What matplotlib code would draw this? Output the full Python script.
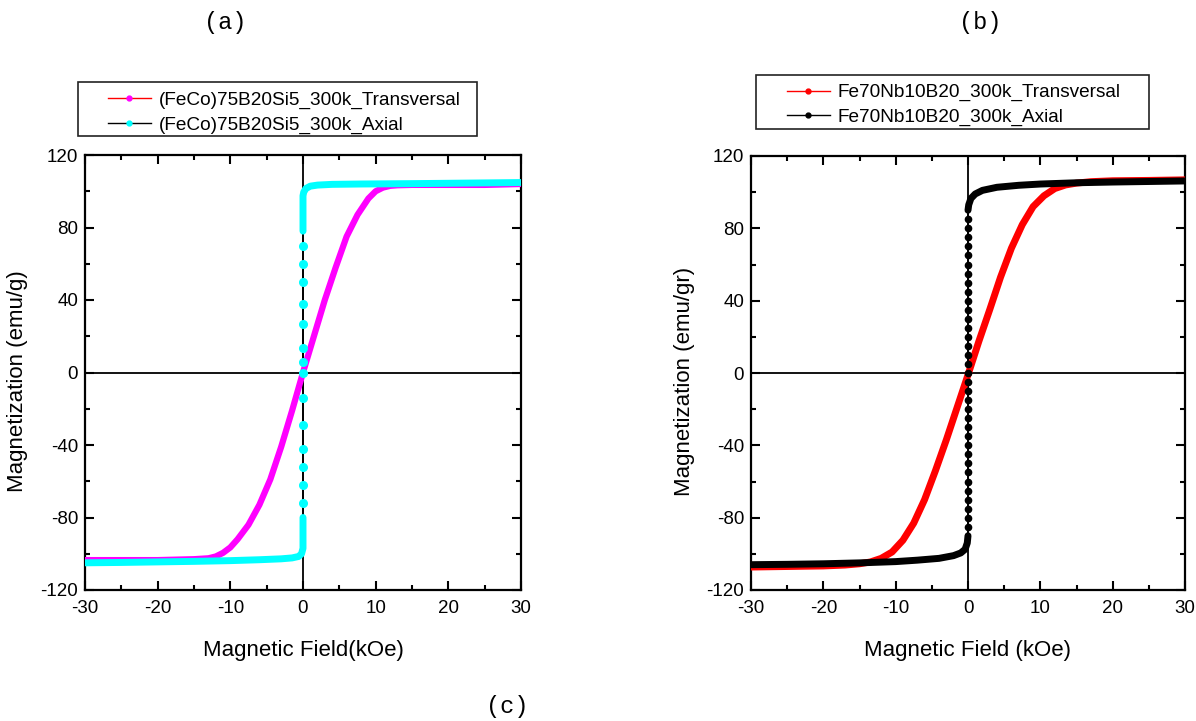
import numpy as np
import matplotlib.pyplot as plt
from matplotlib.lines import Line2D
from matplotlib.patches import Rectangle

plt.rcParams['font.family'] = ['Liberation Sans', 'DejaVu Sans']
plt.rcParams['axes.unicode_minus'] = False

# (a) (FeCo)75B20Si5 - transversal loop
a_trans_h = [-30, -25, -20, -15, -13, -12, -11, -10, -9, -7.5, -6, -4.5, -3, -1.5, 0,
             1.5, 3, 4.5, 6, 7.5, 9, 10, 11, 12, 13, 15, 20, 25, 30]
a_trans_m = [-103.5, -103.5, -103.5, -103, -102.5, -101.5, -99.5, -96.5, -92, -84, -73, -59, -41, -21, 0,
             20, 40, 58, 75, 87, 96, 100, 102, 103, 103.3, 103.5, 103.5, 103.5, 104]

# (a) axial loop: lower branch, jump at H = 0, upper branch
a_axial_h = [-30, -25, -20, -15, -10, -6, -3, -1.5, -0.6, -0.2, 0,
             0, 0, 0, 0, 0, 0, 0, 0, 0, 0, 0, 0, 0, 0, 0, 0, 0, 0, 0, 0, 0, 0, 0,
             0.1, 0.4, 1, 2, 4, 8, 15, 20, 25, 30]
a_axial_m = [-105, -104.8, -104.5, -104.2, -103.8, -103.3, -102.8, -102.3, -101.5, -100, -97,
             -92, -86, -80, -72, -62, -52, -42, -29, -14, 0, 6, 13.5, 27, 38, 50, 60, 70, 78, 84, 88, 92, 95, 97.5,
             99.5, 101.5, 102.8, 103.4, 103.8, 104, 104.2, 104.4, 104.6, 104.8]

# (b) Fe70Nb10B20 - transversal loop
b_trans_h = [-30, -25, -20, -17, -15, -13.5, -12, -10.5, -9, -7.5, -6, -4.5, -3, -1.5, 0,
             1.5, 3, 4.5, 6, 7.5, 9, 10.5, 12, 13.5, 15, 17, 20, 25, 30]
b_trans_m = [-107.3, -107, -106.7, -106.2, -105.5, -104.5, -102.5, -99, -92.5, -83, -70, -54, -37, -19, -1,
             17.5, 35, 53, 69, 82, 92, 98, 102, 104, 105, 105.8, 106.3, 106.5, 106.8]

# (b) axial loop
b_axial_h = [-30, -25, -20, -15, -10, -7, -4, -2, -1, -0.4, -0.1,
             0, 0, 0, 0, 0, 0, 0, 0, 0, 0, 0, 0, 0, 0, 0, 0, 0, 0, 0,
             0, 0, 0, 0, 0, 0, 0, 0, 0, 0, 0, 0, 0, 0, 0, 0, 0, 0,
             0.1, 0.4, 1, 2, 4, 7, 10, 15, 20, 25, 30]
b_axial_m = [-106, -105.8, -105.5, -105, -104.3, -103.5, -102.5, -101, -99.5, -97.5, -94,
             -90, -85, -80, -75, -70, -65, -60, -55, -50, -45, -40, -35, -30, -25, -20, -15, -10, -5, 0,
             5, 10, 15, 20, 25, 30, 35, 40, 45, 50, 55, 60, 65, 70, 75, 80, 85, 90,
             93, 96.5, 99, 101, 102.7, 103.8, 104.5, 105.2, 105.6, 105.9, 106.2]

a_labels = ['(FeCo)75B20Si5_300k_Transversal', '(FeCo)75B20Si5_300k_Axial']
b_labels = ['Fe70Nb10B20_300k_Transversal', 'Fe70Nb10B20_300k_Axial']


def draw_loop(ax, h, m, line_color, marker_color, band_lw, dot_ms, jump_limit):
    """Thin line under a dense band of markers; the jump at H=0 shows single dots"""
    h = np.asarray(h, dtype=float)
    m = np.asarray(m, dtype=float)
    jump = (h == 0) & (np.abs(m) < jump_limit)
    ax.plot(h, m, color=line_color, lw=1.2, zorder=2)
    band = np.where(jump, np.nan, m)
    ax.plot(h, band, color=marker_color, lw=band_lw, solid_capstyle='round',
            solid_joinstyle='round', zorder=3)
    ax.plot(h[jump], m[jump], ls='none', marker='o', ms=dot_ms,
            color=marker_color, zorder=3)


def setup_axes(ax, ylabel, xlabel):
    """Origin style frame: inward ticks on all sides, zero lines"""
    ax.set_xlim(-30, 30)
    ax.set_ylim(-120, 120)
    ax.set_xticks(np.arange(-30, 31, 10))
    ax.set_xticks(np.arange(-30, 31, 5), minor=True)
    ax.set_yticks(np.arange(-120, 121, 40))
    ax.set_yticks(np.arange(-120, 121, 20), minor=True)
    ax.tick_params(which='both', direction='in', top=True, right=True, width=1.5,
                   labelsize=13.5)
    ax.tick_params(which='major', length=6.5)
    ax.tick_params(which='minor', length=3.5)
    ax.tick_params(axis='x', pad=7)
    ax.tick_params(axis='y', pad=5)
    for s in ax.spines.values():
        s.set_linewidth(1.6)
    ax.axhline(0, color='black', lw=1.3, zorder=1)
    ax.axvline(0, color='black', lw=1.3, zorder=1)
    ax.set_xlabel(xlabel, fontsize=16)
    ax.set_ylabel(ylabel, fontsize=16)
    ax.xaxis.set_label_coords(0.5, -0.115)
    ax.yaxis.set_label_coords(-0.13, 0.48)


def add_legend(fig, labels, line_colors, marker_colors, box, anchor):
    """Legend box drawn as a rectangle, entries placed inside"""
    fig.patches.append(Rectangle(box[:2], box[2], box[3], transform=fig.transFigure,
                                 fill=False, edgecolor='#222222', lw=1.2))
    handles = [Line2D([], [], color=lc, lw=1, marker='o', ms=3.5, mfc=mc, mec=mc)
               for lc, mc in zip(line_colors, marker_colors)]
    fig.legend(handles, labels, loc='center left', bbox_to_anchor=anchor,
               bbox_transform=fig.transFigure, frameon=False, fontsize=13.7,
               handlelength=2.25, handletextpad=0.4, labelspacing=0.38,
               borderpad=0, borderaxespad=0)


fig = plt.figure(figsize=(11.96, 7.21), dpi=100)
ax_a = fig.add_axes([85 / 1196, 1 - 590 / 721, 436 / 1196, 435 / 721])
ax_b = fig.add_axes([751 / 1196, 1 - 590 / 721, 434 / 1196, 434 / 721])

draw_loop(ax_a, a_trans_h, a_trans_m, 'red', 'magenta', 4.5, 5, 0)
draw_loop(ax_a, a_axial_h, a_axial_m, 'black', 'cyan', 5, 5.5, 75)
setup_axes(ax_a, 'Magnetization (emu/g)', 'Magnetic Field(kOe)')

draw_loop(ax_b, b_trans_h, b_trans_m, 'red', 'red', 5, 5, 0)
draw_loop(ax_b, b_axial_h, b_axial_m, 'black', 'black', 5, 4.5, 88)
setup_axes(ax_b, 'Magnetization (emu/gr)', 'Magnetic Field (kOe)')

add_legend(fig, a_labels, ['red', 'black'], ['magenta', 'cyan'],
           (78 / 1196, 1 - 136 / 721, 399 / 1196, 54 / 721),
           (108 / 1196, 1 - 112.5 / 721))
add_legend(fig, b_labels, ['red', 'black'], ['red', 'black'],
           (756 / 1196, 1 - 129 / 721, 393 / 1196, 54 / 721),
           (787 / 1196, 1 - 105 / 721))

mono = ['Liberation Mono', 'DejaVu Sans Mono']
fig.text(225 / 1196, 1 - 22 / 721, '(a)', family=mono, fontsize=17, ha='center', va='center')
fig.text(980 / 1196, 1 - 22 / 721, '(b)', family=mono, fontsize=17, ha='center', va='center')
fig.text(507 / 1196, 1 - 707 / 721, '(c)', family=mono, fontsize=17, ha='center', va='center')

fig.savefig('out.png', dpi=100)
